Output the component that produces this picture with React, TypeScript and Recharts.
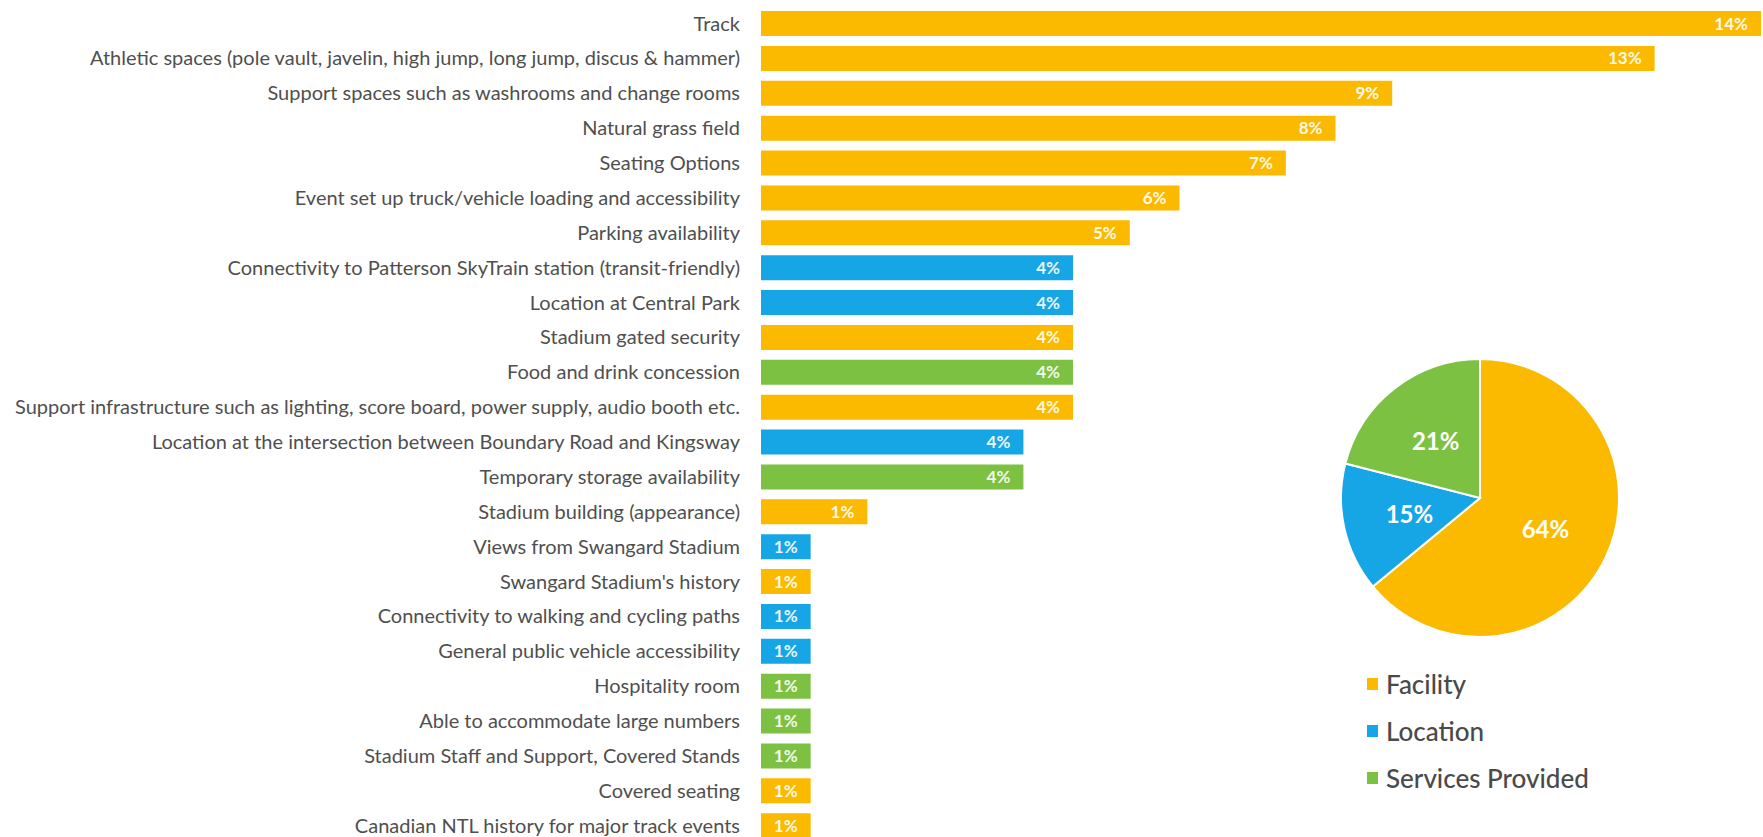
import { Bar, BarChart, Cell, LabelList, Legend, Pie, PieChart, XAxis, YAxis } from "recharts";

const FONT = "Lato, 'Open Sans', sans-serif";

const FACILITY = "#FBBA00";
const LOCATION = "#17A6E5";
const SERVICES = "#7CC142";

const categories = [
  "Track",
  "Athletic spaces (pole vault, javelin, high jump, long jump, discus & hammer)",
  "Support spaces such as washrooms and change rooms",
  "Natural grass field",
  "Seating Options",
  "Event set up truck/vehicle loading and accessibility",
  "Parking availability",
  "Connectivity to Patterson SkyTrain station (transit-friendly)",
  "Location at Central Park",
  "Stadium gated security",
  "Food and drink concession",
  "Support infrastructure such as lighting, score board, power supply, audio booth etc.",
  "Location at the intersection between Boundary Road and Kingsway",
  "Temporary storage availability",
  "Stadium building (appearance)",
  "Views from Swangard Stadium",
  "Swangard Stadium's history",
  "Connectivity to walking and cycling paths",
  "General public vehicle accessibility",
  "Hospitality room",
  "Able to accommodate large numbers",
  "Stadium Staff and Support, Covered Stands",
  "Covered seating",
  "Canadian NTL history for major track events",
];

const shares = [
  14.1, 12.6, 8.9, 8.1, 7.4, 5.9, 5.2, 4.4, 4.4, 4.4, 4.4, 4.4, 3.7, 3.7, 1.5, 0.7, 0.7, 0.7, 0.7,
  0.7, 0.7, 0.7, 0.7, 0.7,
];

const shareLabels = [
  "14%", "13%", "9%", "8%", "7%", "6%", "5%", "4%", "4%", "4%", "4%", "4%", "4%", "4%", "1%",
  "1%", "1%", "1%", "1%", "1%", "1%", "1%", "1%", "1%",
];

const groups = [
  "Facility", "Facility", "Facility", "Facility", "Facility", "Facility", "Facility", "Location",
  "Location", "Facility", "Services Provided", "Facility", "Location", "Services Provided",
  "Facility", "Location", "Facility", "Location", "Location", "Services Provided",
  "Services Provided", "Services Provided", "Facility", "Facility",
];

const groupNames = ["Facility", "Location", "Services Provided"];
const groupShares = [64, 15, 21];
const groupColors = [FACILITY, LOCATION, SERVICES];

const colorOf = (g: string) => groupColors[groupNames.indexOf(g)];

const barData = categories.map((name, i) => ({
  name,
  value: shares[i],
  label: shareLabels[i],
  group: groups[i],
}));

const pieData = groupNames.map((name, i) => ({ name, value: groupShares[i] }));

const RADIAN = Math.PI / 180;

function PieLabel(props: any) {
  const { cx, cy, midAngle, outerRadius, value } = props;
  const r = outerRadius * 0.52;
  const x = cx + r * Math.cos(-midAngle * RADIAN);
  const y = cy + r * Math.sin(-midAngle * RADIAN);
  return (
    <text
      x={x}
      y={y}
      fill="#fff"
      textAnchor="middle"
      dominantBaseline="central"
      fontFamily={FONT}
      fontSize={24}
      fontWeight={700}
    >
      {value}%
    </text>
  );
}

function LegendList({ payload }: any) {
  return (
    <div style={{ fontFamily: FONT }}>
      {(payload || []).map((p: any) => (
        <div
          key={p.value}
          style={{ display: "flex", alignItems: "center", height: 47, color: "#4a4a4a", fontSize: 26, fontWeight: 500 }}
        >
          <span style={{ width: 11, height: 12, background: p.color, marginRight: 8, display: "inline-block" }} />
          {p.value}
        </div>
      ))}
    </div>
  );
}

export default function App() {
  return (
    <div
      style={{
        position: "absolute",
        left: 0,
        top: 0,
        width: 1763,
        height: 837,
        overflow: "hidden",
        background: "#fff",
      }}
    >
      <BarChart
        width={1763}
        height={843}
        data={barData}
        layout="vertical"
        margin={{ top: 6, right: 2, bottom: 0, left: 0 }}
        barSize={25}
      >
        <XAxis type="number" domain={[0, "dataMax"]} hide />
        <YAxis
          type="category"
          dataKey="name"
          width={761}
          axisLine={false}
          tickLine={false}
          tickMargin={15}
          interval={0}
          tick={{ fill: "#4f4f4f", fontSize: 20, fontFamily: FONT }}
        />
        <Bar dataKey="value" isAnimationActive={false}>
          {barData.map((d) => (
            <Cell key={d.name} fill={colorOf(d.group)} />
          ))}
          <LabelList
            dataKey="label"
            position="insideRight"
            offset={13}
            fill="#fff"
            fontSize={17}
            fontWeight={700}
            fontFamily={FONT}
            fillOpacity={0.92}
          />
        </Bar>
      </BarChart>

      <div style={{ position: "absolute", left: 1325, top: 343 }}>
        <PieChart width={438} height={494}>
          <Pie
            data={pieData}
            dataKey="value"
            nameKey="name"
            cx={150}
            cy={150}
            outerRadius={139}
            startAngle={90}
            endAngle={-270}
            stroke="#fff"
            strokeWidth={2}
            label={PieLabel}
            labelLine={false}
            isAnimationActive={false}
          >
            {pieData.map((d, i) => (
              <Cell key={d.name} fill={groupColors[i]} />
            ))}
          </Pie>
          <Legend
            content={LegendList}
            wrapperStyle={{ position: "absolute", left: 42, top: 317, width: 330 }}
          />
        </PieChart>
      </div>
    </div>
  );
}
